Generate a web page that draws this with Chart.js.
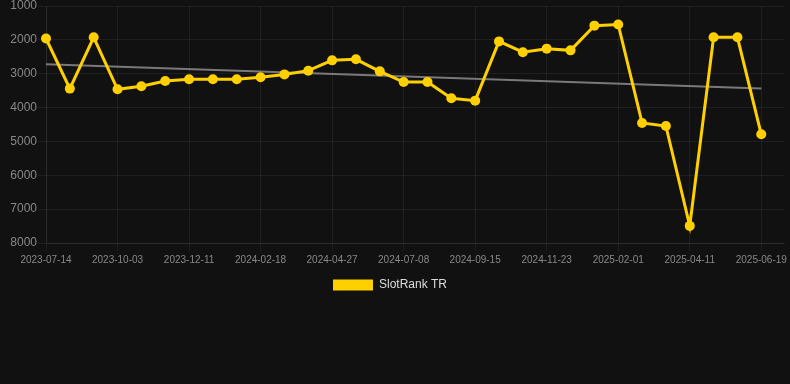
<!DOCTYPE html>
<html>
<head>
<meta charset="utf-8">
<script src="https://cdn.jsdelivr.net/npm/chart.js@4.4.1/dist/chart.umd.min.js"></script>
<style>
  html, body { margin: 0; padding: 0; background: #111111; }
  #wrap { width: 790px; height: 301px; }
</style>
</head>
<body>
<div id="wrap"><canvas id="rankChart"></canvas></div>
<script>
// Dates of each rank snapshot
const dates = [
  "2023-07-14", "2023-08-10", "2023-09-06", "2023-10-03", "2023-10-26", "2023-11-18",
  "2023-12-11", "2024-01-03", "2024-01-26", "2024-02-18", "2024-03-12", "2024-04-04",
  "2024-04-27", "2024-05-21", "2024-06-14", "2024-07-08", "2024-07-31", "2024-08-23",
  "2024-09-15", "2024-10-08", "2024-10-31", "2024-11-23", "2024-12-16", "2025-01-08",
  "2025-02-01", "2025-02-24", "2025-03-19", "2025-04-11", "2025-05-04", "2025-05-27",
  "2025-06-19",
];

// Rank values
const rankTR = [
  1960, 3440, 1925, 3460, 3370, 3215, 3165, 3165, 3165, 3105,
  3020, 2910, 2605, 2575, 2930, 3245, 3245, 3725, 3795, 2045,
  2365, 2260, 2310, 1580, 1545, 4455, 4545, 7495, 1925, 1925,
  4790,
];

// Trend line end values
const trendEnds = [2720, 3440];

// Y axis range (reversed, rank 1000 on top)
const yMin = 1000;
const yMax = 8000;

const yellow = "#ffd000";
const gridColor = "rgba(255,255,255,0.06)";
const fontFamily = "Liberation Sans, Arial, sans-serif";

// x runs a little past the last snapshot so the grid reaches the right edge
const xMax = 30.96;

const rankPoints = rankTR.map((v, i) => ({ x: i, y: v }));
const trendPoints = [
  { x: 0, y: trendEnds[0] },
  { x: dates.length - 1, y: trendEnds[1] },
];

// nudge the legend a bit to the left, like the original
const legendShift = {
  id: "legendShift",
  afterLayout(chart) {
    if (chart.legend) {
      chart.legend.left -= 5;
      chart.legend.right -= 5;
    }
  },
};

const ctx = document.getElementById("rankChart").getContext("2d");
new Chart(ctx, {
  type: "line",
  data: {
    datasets: [
      {
        label: "SlotRank TR",
        data: rankPoints,
        borderColor: yellow,
        backgroundColor: yellow,
        borderWidth: 3,
        pointRadius: 5,
        pointHoverRadius: 5,
        pointBackgroundColor: yellow,
        pointBorderWidth: 0,
        tension: 0,
        clip: false,
        order: 1,
      },
      {
        label: "trend",
        data: trendPoints,
        borderColor: "rgba(140,140,140,0.85)",
        borderWidth: 2,
        pointRadius: 0,
        clip: false,
        order: 2,
      },
    ],
  },
  plugins: [legendShift],
  options: {
    responsive: true,
    maintainAspectRatio: false,
    animation: false,
    layout: { padding: { top: 6 } },
    plugins: {
      legend: {
        position: "bottom",
        labels: {
          boxWidth: 40,
          boxHeight: 11,
          color: "#dddddd",
          font: { family: fontFamily, size: 12 },
          filter: (item) => item.text !== "trend",
          generateLabels: function (chart) {
            const items = Chart.defaults.plugins.legend.labels.generateLabels(chart);
            items.forEach((it) => { it.lineWidth = 0; });
            return items;
          },
        },
      },
      tooltip: { enabled: false },
    },
    scales: {
      x: {
        type: "linear",
        min: 0,
        max: xMax,
        grid: { color: gridColor },
        border: { color: gridColor },
        afterBuildTicks: function (axis) {
          const ticks = [];
          for (let i = 0; i < dates.length; i += 3) ticks.push({ value: i });
          axis.ticks = ticks;
        },
        ticks: {
          color: "#888888",
          font: { family: fontFamily, size: 10 },
          maxRotation: 0,
          autoSkip: false,
          callback: (value) => dates[value] || "",
        },
      },
      y: {
        reverse: true,
        min: yMin,
        max: yMax,
        grid: { color: gridColor },
        border: { color: gridColor },
        afterFit: function (axis) {
          axis.width = 46;
          axis.paddingTop = 0;
        },
        ticks: {
          color: "#888888",
          stepSize: 1000,
          padding: 1,
          font: { family: fontFamily, size: 12 },
          callback: (value) => String(value),
        },
      },
    },
  },
});
</script>
</body>
</html>
